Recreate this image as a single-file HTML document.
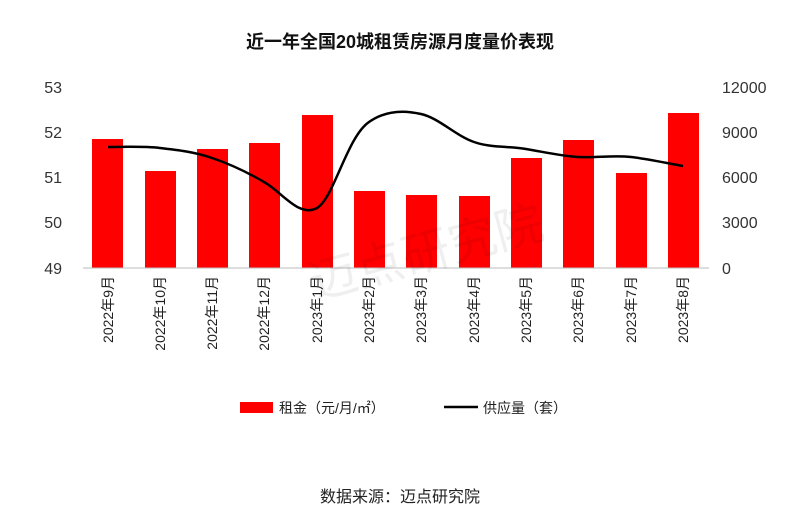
<!DOCTYPE html>
<html><head><meta charset="utf-8"><style>
body{margin:0;background:#fff;}
text{font-family:"Liberation Sans","Noto Sans CJK SC",sans-serif;}
</style></head><body>
<svg width="800" height="522" viewBox="0 0 800 522" xmlns="http://www.w3.org/2000/svg">
<rect width="800" height="522" fill="#fff"/>
<text x="400" y="48" text-anchor="middle" font-size="18" font-weight="bold" fill="#111">近一年全国20城租赁房源月度量价表现</text>
<g font-size="16" fill="#333" text-anchor="end">
<text x="62" y="93">53</text><text x="62" y="138">52</text><text x="62" y="183">51</text><text x="62" y="228">50</text><text x="62" y="274">49</text>
</g>
<g font-size="16" fill="#333" text-anchor="start">
<text x="722" y="93">12000</text><text x="722" y="138">9000</text><text x="722" y="183">6000</text><text x="722" y="228">3000</text><text x="722" y="274">0</text>
</g>
<g fill="#f00">
<rect x="92" y="139" width="31" height="129"/>
<rect x="145" y="171" width="31" height="97"/>
<rect x="197" y="149" width="31" height="119"/>
<rect x="249" y="143" width="31" height="125"/>
<rect x="302" y="115" width="31" height="153"/>
<rect x="354" y="191" width="31" height="77"/>
<rect x="406" y="195" width="31" height="73"/>
<rect x="459" y="196" width="31" height="72"/>
<rect x="511" y="158" width="31" height="110"/>
<rect x="563" y="140" width="31" height="128"/>
<rect x="616" y="173" width="31" height="95"/>
<rect x="668" y="113" width="31" height="155"/>
</g>
<line x1="83" y1="268" x2="709" y2="268" stroke="#bbb" stroke-width="1"/>
<path d="M108,147 C125,147 143,146 160,148 C178,150 195,152 212,158 C230,164 247,172 264,182 C282,192 299,218 317,208 C334,198 347,137 369,122 C386,110 404,110 421,114 C439,118 456,136 474,142 C491,148 509,146 526,149 C544,152 561,156 578,157 C596,158 613,155 631,157 C648,159 666,163 683,166" fill="none" stroke="#000" stroke-width="2.5"/>
<g font-size="14" fill="#222" text-anchor="end">
<text transform="translate(113,276) rotate(-90)">2022年9月</text>
<text transform="translate(165,276) rotate(-90)">2022年10月</text>
<text transform="translate(217,276) rotate(-90)">2022年11月</text>
<text transform="translate(269,276) rotate(-90)">2022年12月</text>
<text transform="translate(322,276) rotate(-90)">2023年1月</text>
<text transform="translate(374,276) rotate(-90)">2023年2月</text>
<text transform="translate(426,276) rotate(-90)">2023年3月</text>
<text transform="translate(479,276) rotate(-90)">2023年4月</text>
<text transform="translate(531,276) rotate(-90)">2023年5月</text>
<text transform="translate(583,276) rotate(-90)">2023年6月</text>
<text transform="translate(636,276) rotate(-90)">2023年7月</text>
<text transform="translate(688,276) rotate(-90)">2023年8月</text>
</g>
<rect x="240" y="402" width="33" height="11" fill="#f00"/>
<text x="279" y="413" font-size="14" fill="#222">租金（元/月/㎡）</text>
<line x1="444" y1="407" x2="478" y2="407" stroke="#000" stroke-width="2.5"/>
<text x="483" y="413" font-size="14" fill="#222">供应量（套）</text>
<text x="400" y="502" text-anchor="middle" font-size="16" fill="#222">数据来源：迈点研究院</text>
<text x="300" y="270" font-size="48" fill="#000" opacity="0.06" transform="rotate(-15 420 230)">迈点研究院</text>
</svg>
</body></html>
